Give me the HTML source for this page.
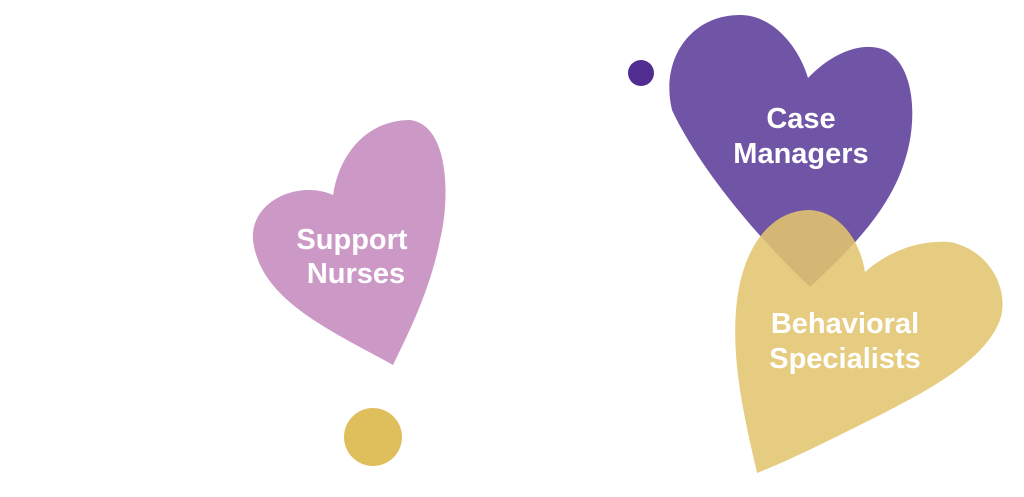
<!DOCTYPE html>
<html><head><style>
html,body{margin:0;padding:0;background:#fff;width:1024px;height:497px;overflow:hidden}
text{font-family:"Liberation Sans",sans-serif;font-weight:bold;fill:#fff;font-size:29px;text-anchor:middle}
</style></head><body>
<svg width="1024" height="497" viewBox="0 0 1024 497" xmlns="http://www.w3.org/2000/svg">
<path d="M 393 365 C 330 330, 260 300, 253 240 C 250 200, 300 180, 333 195 C 340 150, 370 120, 410 120 C 450 125, 450 200, 440 240 C 430 290, 410 330, 393 365 Z" fill="#cc99c7"/>
<path d="M 810 287 C 760 240, 700 170, 672 110 C 660 60, 690 15, 740 15 C 775 15, 800 50, 808 78 C 830 55, 860 40, 885 50 C 915 65, 918 120, 905 160 C 890 210, 850 250, 810 287 Z" fill="#7054a6"/>
<path d="M 757 473 C 745 420, 730 360, 737 300 C 745 240, 775 210, 810 210 C 840 212, 860 240, 865 272 C 890 250, 920 240, 950 242 C 990 250, 1010 290, 1000 320 C 985 360, 930 390, 870 420 C 830 440, 790 460, 757 473 Z" fill="#e2c56e" fill-opacity="0.88"/>
<circle cx="641" cy="73" r="13" fill="#522d91"/>
<circle cx="373" cy="437" r="29" fill="#dfbe5c"/>
<text x="352" y="249">Support</text>
<text x="356" y="283">Nurses</text>
<text x="801" y="128">Case</text>
<text x="801" y="163">Managers</text>
<text x="845" y="333">Behavioral</text>
<text x="845" y="368">Specialists</text>
</svg>
</body></html>
